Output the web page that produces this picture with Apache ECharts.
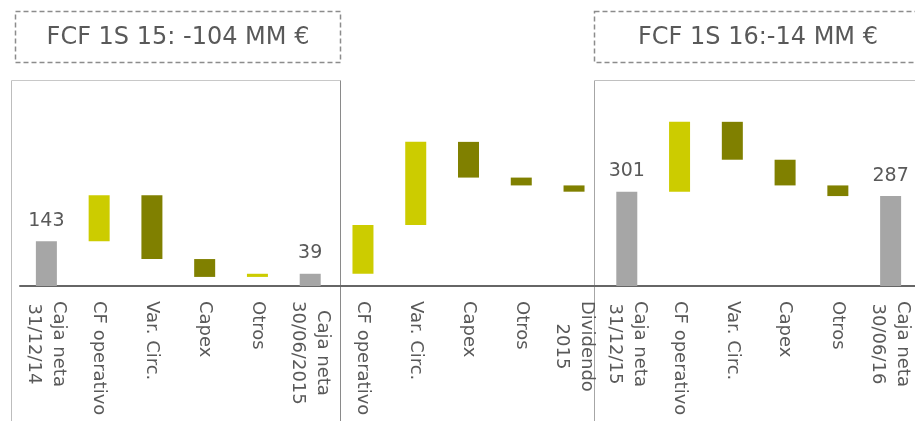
<!DOCTYPE html>
<html>
<head>
<meta charset="utf-8">
<script src="https://cdn.jsdelivr.net/npm/echarts@6/dist/echarts.min.js"></script>
<style>
  html, body { margin: 0; padding: 0; background: #fff; }
  #chart { width: 915px; height: 421px; }
</style>
</head>
<body>
<div id="chart"></div>
<script>
// Cash bridge, MM €
const categories = [
  'Caja neta\n31/12/14', 'CF operativo', 'Var. Circ.', 'Capex', 'Otros', 'Caja neta\n30/06/2015',
  'CF operativo', 'Var. Circ.', 'Capex', 'Otros', 'Dividendo\n2015',
  'Caja neta\n31/12/15', 'CF operativo', 'Var. Circ.', 'Capex', 'Otros', 'Caja neta\n30/06/16'
];
// cash balances (null where the bar is a movement)
const totals = [143, null, null, null, null, 39, null, null, null, null, null, 301, null, null, null, null, 287];
// movements between balances (null where the bar is a balance)
const changes = [null, 147, -204, -57, 10, null, 156, 265, -114, -25, -20, null, 223, -121, -82, -34, null];
const headlines = ['FCF 1S 15: -104 MM €', 'FCF 1S 16:-14 MM €'];

const FONT = '"DejaVu Sans", Verdana, sans-serif';
const TEXT = '#595959';
const GREY = '#a6a6a6', UP = '#cccc00', DOWN = '#808000';

// floating bars: invisible base + visible segment
const base = [], size = [], colors = [];
let running = 0;
categories.forEach((c, i) => {
  if (totals[i] !== null) {
    running = totals[i];
    base.push(0); size.push(totals[i]); colors.push(GREY);
  } else {
    const start = running;
    running += changes[i];
    base.push(Math.min(start, running));
    size.push(Math.abs(changes[i]));
    colors.push(changes[i] > 0 ? UP : DOWN);
  }
});

const chart = echarts.init(document.getElementById('chart'), null, { renderer: 'canvas' });

const frame = (x1, y1, x2, y2, stroke) => ({
  type: 'line', silent: true, z: 0,
  shape: { x1, y1, x2, y2 },
  style: { stroke, lineWidth: 1 }
});
const headBox = (x, w) => ({
  type: 'rect', silent: true,
  shape: { x, y: 11.5, width: w, height: 51 },
  style: { fill: 'none', stroke: '#8c8c8c', lineWidth: 1.5, lineDash: [5, 3] }
});
const headText = (x, text) => ({
  type: 'text', silent: true, x, y: 38,
  style: { text, fill: TEXT, fontSize: 24, fontFamily: FONT, align: 'center', verticalAlign: 'middle' }
});

chart.setOption({
  animation: false,
  grid: { left: 20, width: 897, top: 98, bottom: 135, containLabel: false, outerBoundsMode: 'none' },
  xAxis: {
    type: 'category',
    data: categories,
    axisLine: { lineStyle: { color: '#666', width: 2 } },
    axisTick: { show: false },
    axisLabel: {
      interval: 0,
      rotate: -90,
      margin: 15,
      hideOverlap: false,
      formatter: v => v.split('\n').map(s => '{c|' + s + '}').join('\n'),
      rich: { c: { align: 'center', fontSize: 18, fontFamily: FONT, color: TEXT, lineHeight: 25 } }
    }
  },
  yAxis: { type: 'value', min: 0, max: 600, show: false },
  series: [
    {
      type: 'bar', stack: 'bridge', barWidth: 21, silent: true,
      itemStyle: { color: 'transparent' },
      data: base
    },
    {
      type: 'bar', stack: 'bridge', barWidth: 21,
      data: size.map((v, i) => ({
        value: v,
        itemStyle: { color: colors[i] },
        label: { show: totals[i] !== null }
      })),
      label: {
        position: 'top', distance: 11,
        color: TEXT, fontSize: 19, fontFamily: FONT,
        formatter: p => totals[p.dataIndex]
      }
    }
  ],
  graphic: [
    frame(11.5, 80.5, 11.5, 421, '#bdbdbd'),
    frame(11.5, 80.5, 340.5, 80.5, '#c8c8c8'),
    frame(340.5, 80.5, 340.5, 421, '#8a8a8a'),
    frame(594.5, 80.5, 594.5, 421, '#a6a6a6'),
    frame(594.5, 80.5, 915, 80.5, '#c0c0c0'),
    headBox(15.5, 325),
    headBox(594.5, 330),
    headText(178, headlines[0]),
    headText(758, headlines[1])
  ]
});
</script>
</body>
</html>
